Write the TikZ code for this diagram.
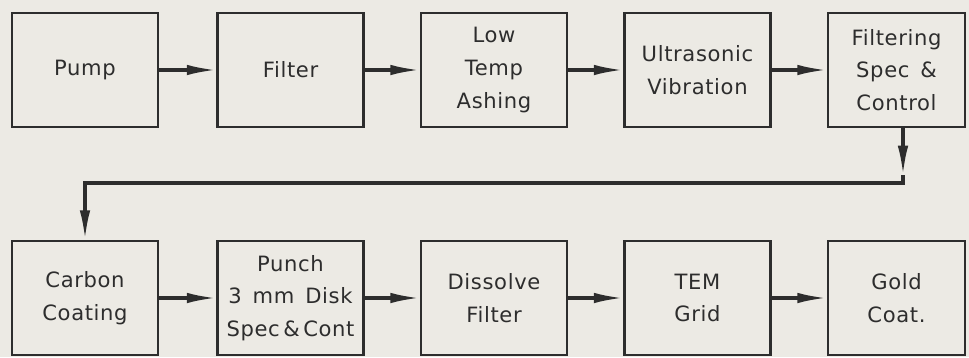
\documentclass[tikz,border=0pt]{standalone}
\usepackage{fontspec}
\newfontfamily\boxfont[LetterSpace=3]{DejaVu Sans}
\usetikzlibrary{arrows.meta,positioning,calc}
\definecolor{paper}{RGB}{236,234,228}
\definecolor{ink}{RGB}{45,45,45}
\begin{document}
\begin{tikzpicture}[x=0.03cm,y=-0.03cm,
block/.style={draw=ink,line width=2.4pt,fill=paper,align=center,minimum width=4.38cm,minimum height=3.42cm,inner sep=0pt,font=\boxfont\fontsize{18}{28}\selectfont,text=ink},
flow/.style={-{Latex[length=25pt,width=9pt]},line width=2.6pt,draw=ink}]
\fill[paper] (0,0) rectangle (969,357);
\useasboundingbox (0,0) rectangle (969,357);
\node[block] (pump) at (85,70) {Pump};
\node[block] (filter) at (290.5,70) {Filter};
\node[block] (ashing) at (494,70) {Low\\Temp\\Ashing};
\node[block] (vibration) at (697.5,70) {Ultrasonic\\Vibration};
\node[block,minimum width=4.11cm] (filtering) at (896.5,70) {Filtering\\Spec \,\&\\Control};
\node[block] (carbon) at (85,298) {Carbon\\Coating};
\node[block] (punch) at (290.5,298) {Punch\\3 \,mm \,Disk\\Spec\,\&\,Cont};
\node[block] (dissolve) at (494,298) {Dissolve\\Filter};
\node[block] (grid) at (697.5,298) {TEM\\Grid};
\node[block,minimum width=4.11cm] (gold) at (896.5,298) {Gold\\Coat.};
\coordinate (drop) at (903,175);
\coordinate (turn) at (903,183);
\draw[flow] (pump)--(filter);
\draw[flow] (filter)--(ashing);
\draw[flow] (ashing)--(vibration);
\draw[flow] (vibration)--(filtering);
\draw[flow] (filtering.south -| drop)--(drop);
\draw[flow] (drop)--(turn)-|(carbon.north);
\draw[flow] (carbon)--(punch);
\draw[flow] (punch)--(dissolve);
\draw[flow] (dissolve)--(grid);
\draw[flow] (grid)--(gold);
\end{tikzpicture}
\end{document}
